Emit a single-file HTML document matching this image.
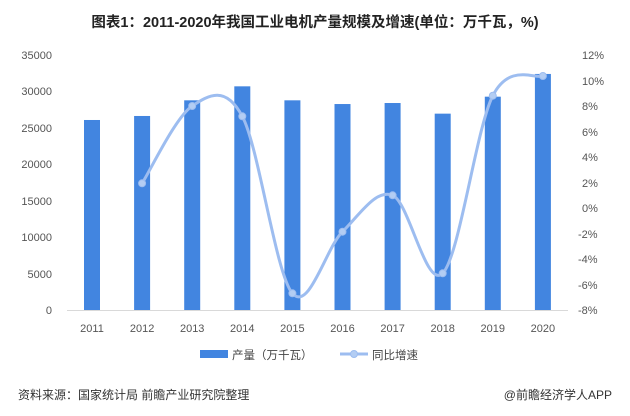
<!DOCTYPE html>
<html><head><meta charset="utf-8"><style>
body{margin:0;background:#fff;width:630px;height:411px;overflow:hidden;font-family:"Liberation Sans","Noto Sans CJK SC",sans-serif}
</style></head><body>
<svg id="s" width="630" height="411" xmlns="http://www.w3.org/2000/svg" font-family="Liberation Sans, Noto Sans CJK SC, sans-serif">
<text x="315" y="27" text-anchor="middle" font-size="14.5" font-weight="bold" fill="#222">图表1：2011-2020年我国工业电机产量规模及增速(单位：万千瓦，%)</text>
<g font-size="11" fill="#555" text-anchor="end">
<text x="52" y="59">35000</text><text x="52" y="95">30000</text><text x="52" y="132">25000</text><text x="52" y="168">20000</text><text x="52" y="205">15000</text><text x="52" y="241">10000</text><text x="52" y="278">5000</text><text x="52" y="314">0</text>
</g>
<g font-size="11" fill="#555" text-anchor="start">
<text x="582" y="59">12%</text><text x="582" y="85">10%</text><text x="582" y="110">8%</text><text x="582" y="136">6%</text><text x="582" y="161">4%</text><text x="582" y="187">2%</text><text x="582" y="212">0%</text><text x="578" y="238">-2%</text><text x="578" y="263">-4%</text><text x="578" y="289">-6%</text><text x="578" y="314">-8%</text>
</g>
<line x1="67" y1="310.5" x2="568" y2="310.5" stroke="#d9d9d9"/>
<g id="bars" fill="#4285e0"></g>
<g id="xl" font-size="11" fill="#555" text-anchor="middle"></g>
<path id="ln" fill="none" stroke="#9dbdf0" stroke-width="3"/>
<g id="pts" fill="#b3cdf3" stroke="#9dbdf0" stroke-width="1"></g>
<rect x="200" y="350" width="28" height="8" fill="#4285e0"/>
<text x="232" y="359" font-size="11.5" fill="#444">产量（万千瓦）</text>
<line x1="340" y1="354" x2="368" y2="354" stroke="#9dbdf0" stroke-width="3"/>
<circle cx="354" cy="354" r="3.5" fill="#b3cdf3" stroke="#9dbdf0"/>
<text x="372" y="359" font-size="11.5" fill="#444">同比增速</text>
<text x="18" y="399" font-size="12" fill="#333">资料来源：国家统计局 前瞻产业研究院整理</text>
<text x="612" y="399" font-size="12" fill="#333" text-anchor="end">@前瞻经济学人APP</text>
</svg>
<script>
var v=[26080,26630,28780,30700,28780,28270,28410,26950,29280,32400];
var ly=[null,183.3,106,116.3,293.3,231.7,195.3,273.3,95.7,76];
var b='',x='',p='',pts=[];
for(var i=0;i<10;i++){var cx=92+50.1*i;var h=v[i]/35000*255;
b+='<rect x="'+(cx-8)+'" y="'+(310-h)+'" width="16" height="'+h+'"/>';
x+='<text x="'+cx+'" y="332">'+(2011+i)+'</text>';
if(ly[i]!==null){pts.push([cx,ly[i]]);p+='<circle cx="'+cx+'" cy="'+ly[i]+'" r="3.5"/>';}}
document.getElementById('bars').innerHTML=b;document.getElementById('xl').innerHTML=x;document.getElementById('pts').innerHTML=p;
var d='M'+pts[0][0]+','+pts[0][1];
for(var i=0;i<pts.length-1;i++){var p0=pts[i-1]||pts[i],p1=pts[i],p2=pts[i+1],p3=pts[i+2]||p2;
d+=' C'+(p1[0]+(p2[0]-p0[0])/6)+','+(p1[1]+(p2[1]-p0[1])/6)+' '+(p2[0]-(p3[0]-p1[0])/6)+','+(p2[1]-(p3[1]-p1[1])/6)+' '+p2[0]+','+p2[1];}
document.getElementById('ln').setAttribute('d',d);
</script>
</body></html>
